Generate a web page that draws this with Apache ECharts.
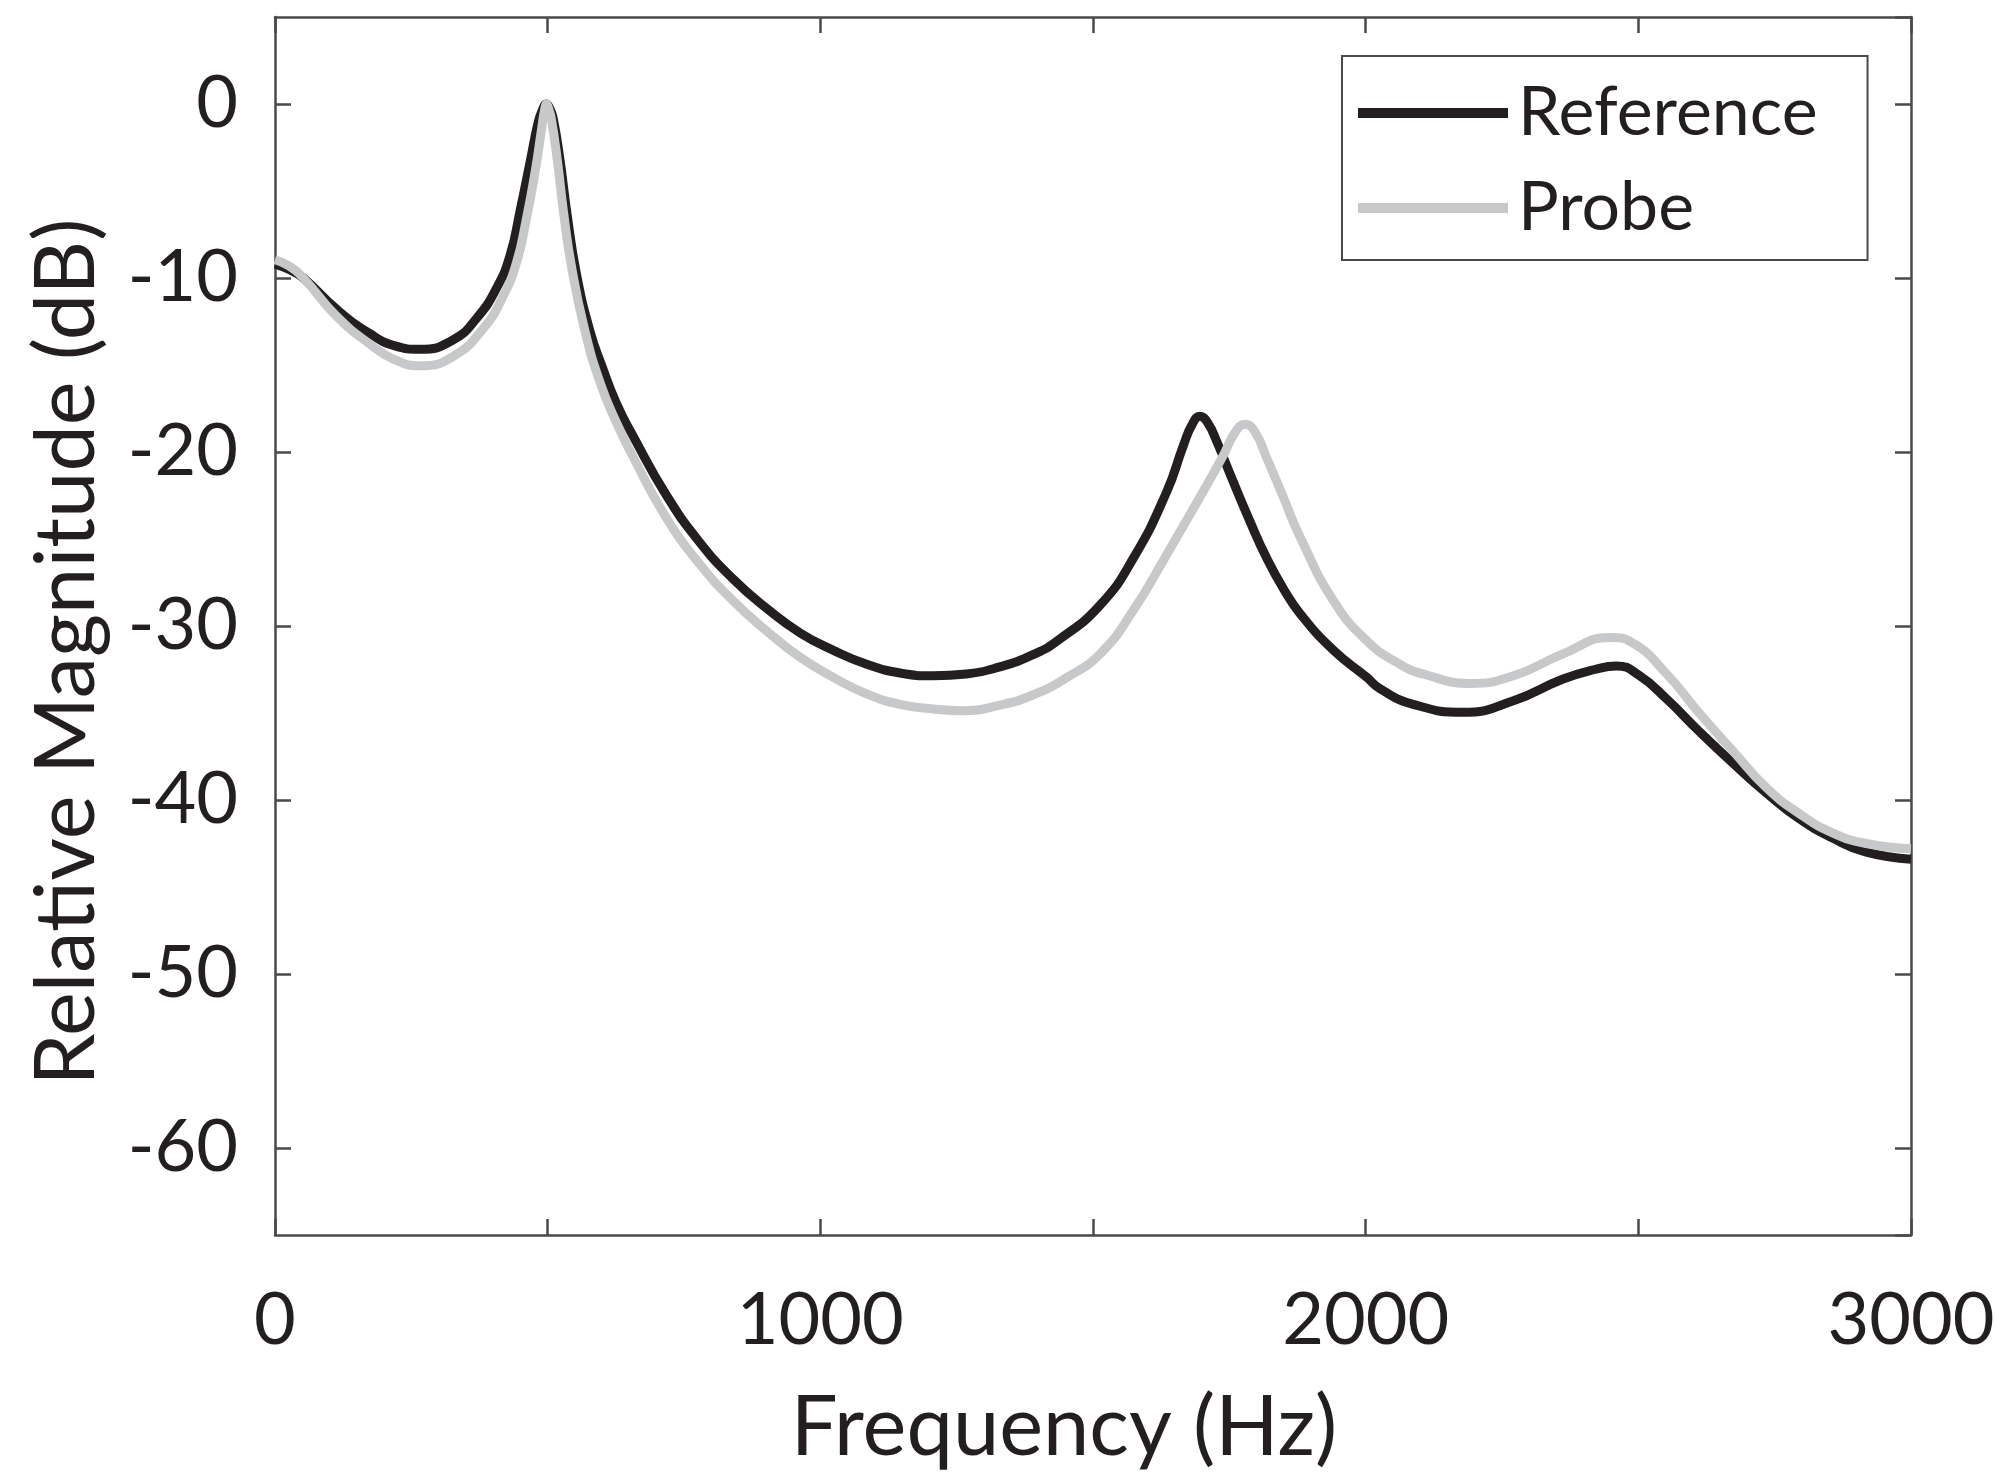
<!DOCTYPE html>
<html>
<head>
<meta charset="utf-8">
<script src="https://cdn.jsdelivr.net/npm/echarts@6/dist/echarts.min.js"></script>
<style>
  html, body { margin: 0; padding: 0; background: #fff; }
  #main { width: 1996px; height: 1481px; }
</style>
</head>
<body>
<div id="main"></div>
<script>
// values (Hz, dB)
var refFreq = [0, 25, 52, 113, 174, 220, 266, 327, 370, 406, 431, 449, 468, 483, 491, 497, 503, 510, 523, 535,
  553, 578, 600, 626, 657, 718, 779, 840, 902, 963, 1024, 1085, 1146, 1207, 1268, 1329, 1390, 1437, 1513, 1574,
  1635, 1666, 1682, 1696, 1710, 1727, 1757, 1788, 1818, 1850, 1880, 1941, 2002, 2026, 2087, 2179, 2271, 2362, 2420, 2460,
  2500, 2552, 2613, 2674, 2735, 2796, 2857, 2918, 3000];
var refDb = [-9.2, -9.5, -10.0, -11.8, -13.2, -13.9, -14.1, -13.55, -12.3, -10.6, -8.7, -6.2, -3.3, -1.0, -0.3, 0, -0.2, -0.8, -3.3, -6.2,
  -9.8, -13.1, -15.1, -17.2, -19.1, -22.5, -25.2, -27.3, -29.0, -30.4, -31.4, -32.2, -32.7, -32.86, -32.76, -32.35, -31.65, -30.8, -28.8, -26.1,
  -22.3, -19.6, -18.4, -17.95, -18.3, -19.4, -21.7, -24.0, -26.07, -27.9, -29.3, -31.4, -32.95, -33.6, -34.5, -34.96, -34.3, -33.05, -32.5, -32.3,
  -32.8, -34.2, -36.1, -37.9, -39.6, -41.1, -42.2, -43.0, -43.4];

var probeFreq = [0, 25, 52, 113, 174, 220, 266, 327, 382, 419, 443, 461, 477, 489, 494, 498, 502, 507, 518, 529,
  544, 568, 596, 626, 657, 718, 779, 840, 902, 963, 1024, 1085, 1146, 1207, 1258, 1329, 1391, 1450, 1513, 1574,
  1635, 1696, 1739, 1760, 1779, 1798, 1818, 1849, 1880, 1941, 2002, 2063, 2110, 2191, 2271, 2362, 2448, 2491, 2552, 2613,
  2674, 2735, 2796, 2857, 2918, 3000];
var probeDb = [-8.95, -9.3, -10.0, -12.2, -13.8, -14.7, -15.05, -14.5, -12.9, -11.0, -9.1, -6.6, -3.9, -1.4, -0.4, 0, -0.3, -0.9, -3.3, -6.2,
  -9.4, -13.0, -16.0, -18.3, -20.3, -23.8, -26.45, -28.55, -30.3, -31.8, -32.95, -33.9, -34.5, -34.77, -34.87, -34.55, -33.95, -33.0, -31.6, -29.1,
  -25.9, -22.6, -20.2, -18.9, -18.4, -18.9, -20.3, -22.6, -24.9, -28.55, -30.85, -32.2, -32.8, -33.3, -32.86, -31.6, -30.66, -31.0, -32.76, -35.05,
  -37.2, -39.3, -40.8, -41.9, -42.5, -42.8];

var seriesNames = ['Reference', 'Probe'];

var font = 'Lato';
var ink = '#231f20';
var probeGray = '#c7c8ca';
var axisGray = '#4a4a4a';

function pairs(xs, ys) {
  return xs.map(function (x, i) { return [x, ys[i]]; });
}

var chart = echarts.init(document.getElementById('main'));

var axisLine = { show: true, onZero: false, lineStyle: { color: axisGray, width: 2.5 } };
var axisTick = { show: true, inside: true, length: 16, lineStyle: { color: axisGray, width: 2.5 } };

var option = {
  animation: false,
  backgroundColor: '#fff',
  grid: { left: 275, right: 85, top: 17, bottom: 246, containLabel: false, outerBoundsMode: 'none' },
  legend: {
    data: seriesNames,
    orient: 'vertical',
    left: 1342,
    top: 56,
    icon: 'rect',
    itemWidth: 150,
    itemHeight: 10,
    itemGap: 21,
    padding: [20, 50, 15, 16],
    borderColor: axisGray,
    borderWidth: 2,
    backgroundColor: '#fff',
    textStyle: { fontFamily: font, fontSize: 68, lineHeight: 74, color: ink, padding: [0, 0, 0, 5] }
  },
  xAxis: [{
    type: 'value',
    position: 'bottom',
    min: 0, max: 3000, interval: 500,
    name: 'Frequency (Hz)',
    nameLocation: 'middle',
    nameGap: 152,
    nameTextStyle: { fontFamily: font, fontSize: 83, color: ink, padding: [0, 58, 0, 0] },
    axisLine: axisLine,
    axisTick: axisTick,
    splitLine: { show: false },
    axisLabel: {
      margin: 50,
      fontFamily: font, fontSize: 72, color: ink,
      formatter: function (v) { return v % 1000 === 0 ? String(v) : ''; }
    }
  }, {
    type: 'value',
    position: 'top',
    min: 0, max: 3000, interval: 500,
    axisLine: axisLine,
    axisTick: axisTick,
    splitLine: { show: false },
    axisLabel: { show: false }
  }],
  yAxis: [{
    type: 'value',
    position: 'left',
    min: -65, max: 5, splitNumber: 7,
    name: 'Relative Magnitude (dB)',
    nameLocation: 'middle',
    nameGap: 166,
    nameTextStyle: { fontFamily: font, fontSize: 83, color: ink, padding: [0, 52, 0, 0] },
    axisLine: axisLine,
    axisTick: axisTick,
    splitLine: { show: false },
    axisLabel: {
      margin: 37,
      fontFamily: font, fontSize: 72, color: ink,
      showMinLabel: false, showMaxLabel: false
    }
  }, {
    type: 'value',
    position: 'right',
    min: -65, max: 5, splitNumber: 7,
    axisLine: axisLine,
    axisTick: axisTick,
    splitLine: { show: false },
    axisLabel: { show: false }
  }],
  series: [{
    name: seriesNames[0],
    type: 'line',
    data: pairs(refFreq, refDb),
    showSymbol: false,
    symbol: 'none',
    smooth: 0.5,
    color: ink,
    itemStyle: { color: ink },
    lineStyle: { color: ink, width: 9 }
  }, {
    name: seriesNames[1],
    type: 'line',
    data: pairs(probeFreq, probeDb),
    showSymbol: false,
    symbol: 'none',
    smooth: 0.5,
    color: probeGray,
    itemStyle: { color: probeGray },
    lineStyle: { color: probeGray, width: 9 }
  }]
};

chart.setOption(option);
</script>
</body>
</html>
